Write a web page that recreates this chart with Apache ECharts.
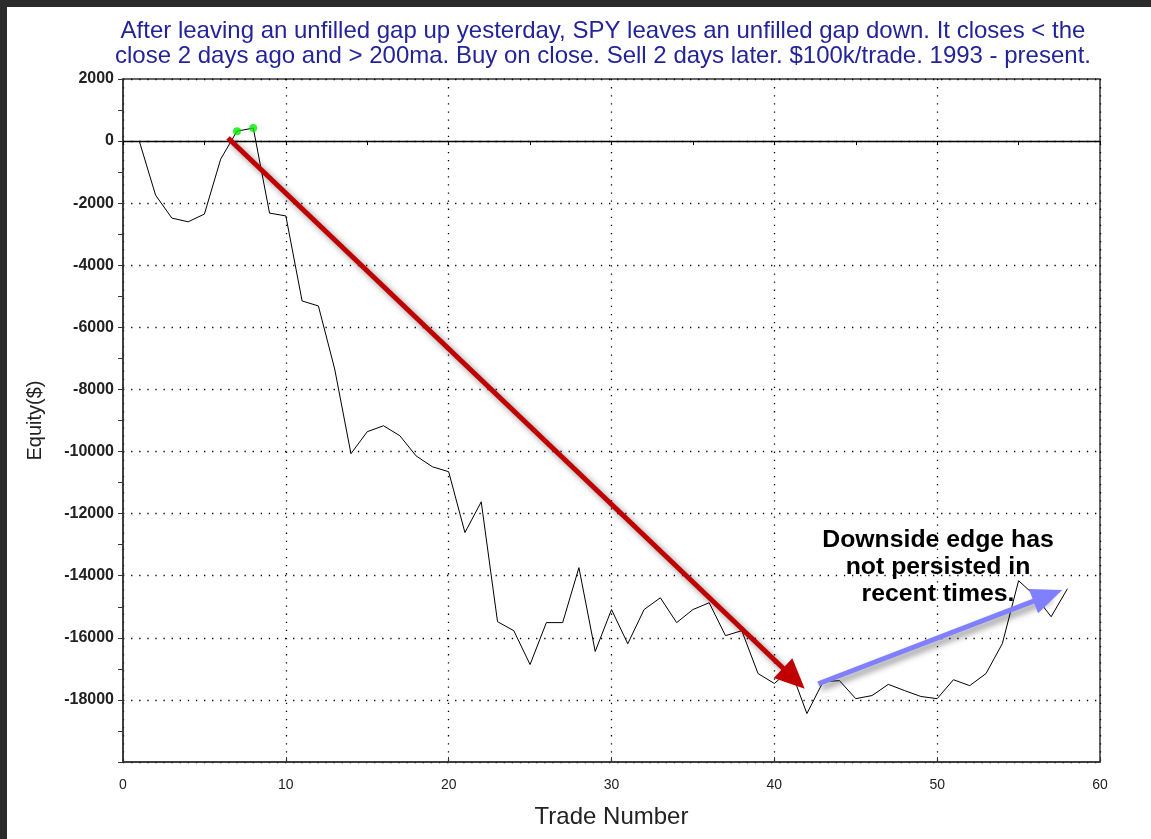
<!DOCTYPE html>
<html>
<head>
<meta charset="utf-8">
<script src="https://cdn.jsdelivr.net/npm/echarts@6/dist/echarts.min.js"></script>
<style>
html,body{margin:0;padding:0;background:#fff;}
#chart{width:1151px;height:839px;}
</style>
</head>
<body>
<div id="chart"></div>
<script>
// ---- data ----
const titleText = 'After leaving an unfilled gap up yesterday, SPY leaves an unfilled gap down. It closes < the\nclose 2 days ago and > 200ma. Buy on close. Sell 2 days later. $100k/trade. 1993 - present.';
const xAxisName = 'Trade Number';
const yAxisName = 'Equity($)';
const trades = [1,2,3,4,5,6,7,8,9,10,11,12,13,14,15,16,17,18,19,20,21,22,23,24,25,26,27,28,29,30,31,32,33,34,35,36,37,38,39,40,41,42,43,44,45,46,47,48,49,50,51,52,53,54,55,56,57,58];
const equity = [0,-1740,-2480,-2600,-2350,-580,320,420,-2320,-2410,-5150,-5310,-7340,-10070,-9360,-9170,-9490,-10140,-10490,-10650,-12610,-11620,-15480,-15770,-16860,-15510,-15510,-13740,-16440,-15090,-16190,-15090,-14710,-15510,-15090,-14870,-15930,-15770,-17150,-17470,-17020,-18440,-17410,-17380,-17960,-17860,-17500,-17700,-17890,-17960,-17350,-17540,-17150,-16190,-14160,-14640,-15320,-14420];
const newHighTrades = [7, 8];
const newHighEquity = [320, 420];
const xTicks = [0,10,20,30,40,50,60];
const yTicks = [2000,0,-2000,-4000,-6000,-8000,-10000,-12000,-14000,-16000,-18000];
// annotation arrows (data coordinates)
const redArrowFrom = [6.45, 100];
const redArrowTo = [41.2, -17310];
const blueArrowFrom = [42.7, -17480];
const blueArrowTo = [56.8, -14640];
const noteText = 'Downside edge has\nnot persisted in\nrecent times.';

const chart = echarts.init(document.getElementById('chart'), null, {renderer:'canvas'});
const dotted = {color:'#000', width:1.3, type:[1.3,6.8]};
const option = {
  backgroundColor:'#fff',
  animation:false,
  grid:{left:123, right:51, top:79, bottom:77, show:true, borderColor:'#333', borderWidth:1.5, backgroundColor:'transparent'},
  xAxis:[{
    type:'value', min:xTicks[0], max:xTicks[xTicks.length-1], interval:10,
    position:'bottom',
    name:xAxisName, nameLocation:'middle', nameGap:43,
    nameTextStyle:{fontFamily:'Liberation Sans', fontSize:24, color:'#222'},
    axisLine:{onZero:false, lineStyle:{color:'#333', width:1.5}},
    axisTick:{show:true, inside:true, length:5, lineStyle:{color:'#333'}},
    axisLabel:{margin:16, fontFamily:'Liberation Sans Narrow, Liberation Sans', fontSize:14, color:'#222'},
    splitLine:{show:true, lineStyle:dotted}
  },{
    type:'value', min:0, max:60, interval:5, position:'bottom',
    axisLine:{onZero:true, lineStyle:{color:'#000', width:1.3}},
    axisTick:{show:true, inside:false, length:4, lineStyle:{color:'#000'}},
    axisLabel:{show:false}, splitLine:{show:false}
  }],
  yAxis:{
    type:'value', min:-20000, max:2000, interval:2000,
    name:yAxisName, nameLocation:'middle', nameGap:78,
    nameTextStyle:{fontFamily:'Liberation Sans', fontSize:20, color:'#222'},
    axisLine:{show:true, lineStyle:{color:'#333', width:1.5}},
    axisTick:{show:true, inside:false, length:5, lineStyle:{color:'#333'}},
    minorTick:{show:true, splitNumber:2, length:5, lineStyle:{color:'#333'}},
    axisLabel:{margin:9, fontFamily:'Liberation Sans', fontWeight:'bold', fontSize:16, color:'#222',
      formatter:v => yTicks.indexOf(v) >= 0 ? String(v) : ''},
    splitLine:{show:true, lineStyle:dotted}
  },
  series:[{
    type:'line', xAxisIndex:0,
    data:trades.map((t,i)=>[t, equity[i]]),
    symbol:'none', lineStyle:{color:'#000', width:1}, itemStyle:{color:'#000'}, z:3
  },{
    type:'scatter', xAxisIndex:0,
    data:newHighTrades.map((t,i)=>[t, newHighEquity[i]]),
    symbolSize:8, itemStyle:{color:'#00ee00'}, z:4
  },{
    type:'line', xAxisIndex:0, data:[], z:5,
    markLine:{
      silent:true, animation:false,
      symbol:['none','triangle'],
      label:{show:false},
      data:[
        [{coord:redArrowFrom, symbol:'none', lineStyle:{color:'#c00000', width:5, type:'solid', shadowBlur:6, shadowColor:'rgba(0,0,0,0.45)', shadowOffsetX:3, shadowOffsetY:3}, itemStyle:{color:'#c00000'}},
         {coord:redArrowTo, symbol:'triangle', symbolSize:[27,30], itemStyle:{color:'#c00000'}}],
        [{coord:blueArrowFrom, symbol:'none', lineStyle:{color:'#8080ff', width:5, type:'solid', shadowBlur:6, shadowColor:'rgba(0,0,0,0.45)', shadowOffsetX:3, shadowOffsetY:4}, itemStyle:{color:'#8080ff'}},
         {coord:blueArrowTo, symbol:'triangle', symbolSize:[26,31], itemStyle:{color:'#8080ff'}}]
      ]
    }
  }],
  graphic:[
    {type:'rect', shape:{x:0,y:0,width:1151,height:7}, style:{fill:'#2b2b2b'}, z:100},
    {type:'rect', shape:{x:0,y:0,width:7,height:839}, style:{fill:'#2b2b2b'}, z:100},
    {type:'text', x:603, y:19, z:100, style:{text:titleText, fill:'#24249a', align:'center', verticalAlign:'top', font:'24px "Liberation Sans"', lineHeight:25}},
    {type:'text', x:938, y:527, z:100, style:{text:noteText, fill:'#000', align:'center', verticalAlign:'top', font:'bold 24.8px "Liberation Sans"', lineHeight:27}}
  ]
};
chart.setOption(option);
</script>
</body>
</html>
